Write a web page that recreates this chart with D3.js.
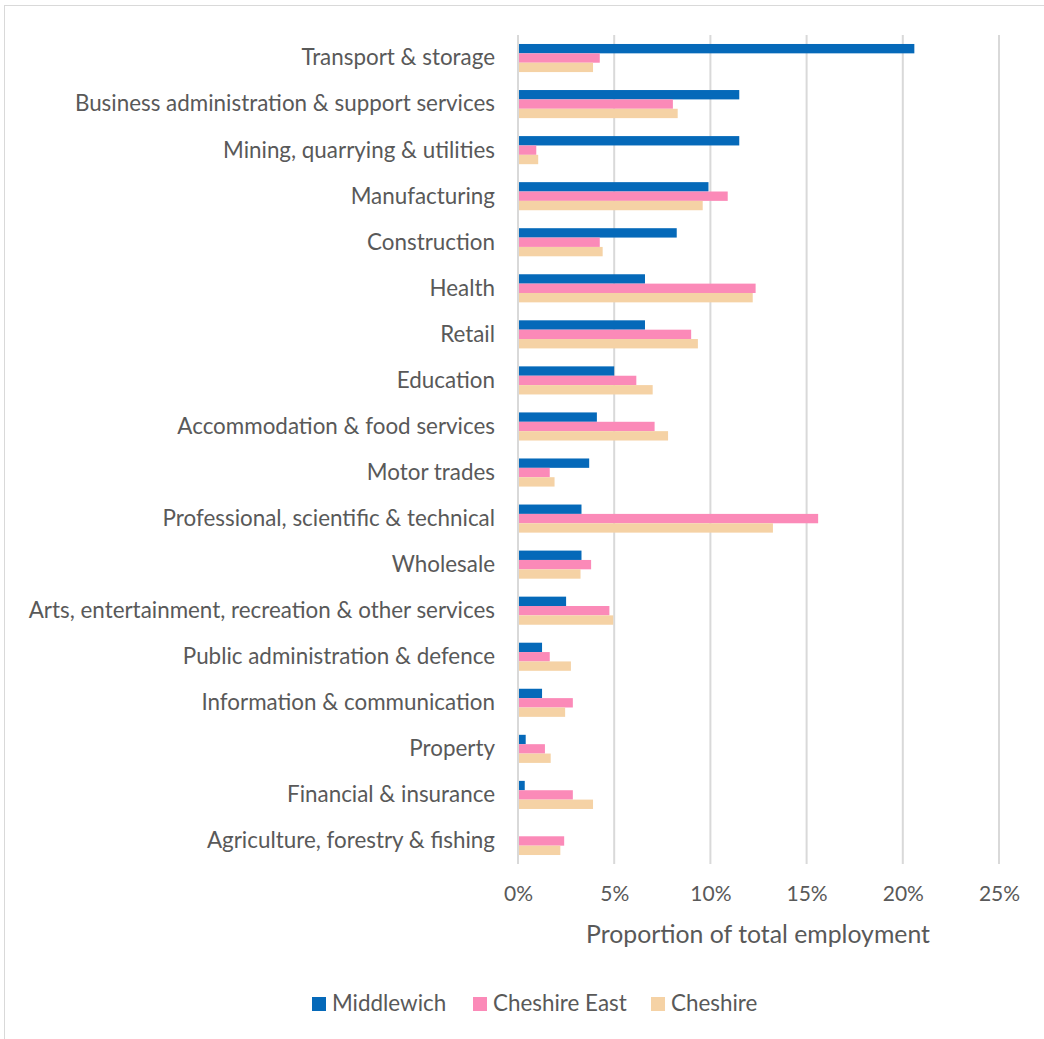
<!DOCTYPE html>
<html>
<head>
<meta charset="utf-8">
<script src="https://cdn.jsdelivr.net/npm/d3@7"></script>
<style>
  html, body { margin: 0; padding: 0; background: #fff; }
  svg { display: block; }
  text { font-family: Lato, "Open Sans", sans-serif; fill: #595959; }
</style>
</head>
<body>
<svg id="chart" width="1044" height="1039"></svg>
<script>
// Employment sectors, top to bottom
const categories = [
  "Transport & storage",
  "Business administration & support services",
  "Mining, quarrying & utilities",
  "Manufacturing",
  "Construction",
  "Health",
  "Retail",
  "Education",
  "Accommodation & food services",
  "Motor trades",
  "Professional, scientific & technical",
  "Wholesale",
  "Arts, entertainment, recreation & other services",
  "Public administration & defence",
  "Information & communication",
  "Property",
  "Financial & insurance",
  "Agriculture, forestry & fishing"
];

// Share of total employment (%)
const middlewich   = [20.6, 11.5, 11.5, 9.9, 8.25, 6.6, 6.6, 5.0, 4.1, 3.7, 3.3, 3.3, 2.5, 1.25, 1.25, 0.4, 0.35, 0.0];
const cheshireEast = [4.25, 8.05, 0.95, 10.9, 4.25, 12.35, 9.0, 6.15, 7.1, 1.65, 15.6, 3.8, 4.75, 1.65, 2.85, 1.4, 2.85, 2.4];
const cheshire     = [3.9, 8.3, 1.05, 9.6, 4.4, 12.2, 9.35, 7.0, 7.8, 1.9, 13.25, 3.25, 4.95, 2.75, 2.45, 1.7, 3.9, 2.2];

const seriesNames = ["Middlewich", "Cheshire East", "Cheshire"];
const seriesColors = ["#0569b9", "#fb8ab8", "#f5d2a5"];
const xTicks = [0, 5, 10, 15, 20, 25];

const series = [middlewich, cheshireEast, cheshire];

const svg = d3.select("#chart");

// Chart area frame
svg.append("rect")
  .attr("x", 4.5).attr("y", 5.5)
  .attr("width", 1060).attr("height", 1060)
  .attr("fill", "none")
  .attr("stroke", "#d9d9d9")
  .attr("stroke-width", 1);

const plot = { left: 518, right: 999, top: 35, bottom: 864 };

const x = d3.scaleLinear().domain([0, 25]).range([plot.left, plot.right]);
const y = d3.scaleBand().domain(categories).range([plot.top, plot.bottom]).paddingInner(0).paddingOuter(0);

const groupH = y.bandwidth() * 0.61;
const inner = d3.scaleBand().domain(seriesNames).range([0, groupH]);

// Vertical gridlines
svg.append("g")
  .selectAll("line")
  .data(xTicks)
  .join("line")
  .attr("x1", d => x(d)).attr("x2", d => x(d))
  .attr("y1", plot.top).attr("y2", plot.bottom)
  .attr("stroke", "#d9d9d9")
  .attr("stroke-width", 2);

// Bars
const groups = svg.append("g")
  .selectAll("g")
  .data(categories)
  .join("g")
  .attr("transform", d => `translate(0,${y(d) + (y.bandwidth() - groupH) / 2})`);

groups.selectAll("rect")
  .data((c, i) => series.map((s, k) => ({ name: seriesNames[k], value: s[i], color: seriesColors[k] })))
  .join("rect")
  .attr("x", x(0) + 1)
  .attr("y", d => inner(d.name))
  .attr("width", d => Math.max(0, x(d.value) - x(0) - 1))
  .attr("height", inner.bandwidth())
  .attr("fill", d => d.color);

// Category labels
svg.append("g")
  .selectAll("text")
  .data(categories)
  .join("text")
  .attr("x", plot.left - 23)
  .attr("y", d => y(d) + y.bandwidth() / 2)
  .attr("dy", "0.33em")
  .attr("text-anchor", "end")
  .attr("font-size", 22.4)
  .text(d => d);

// X axis tick labels
const xAxis = d3.axisBottom(x).tickValues(xTicks).tickFormat(d => d + "%").tickSize(0).tickPadding(0);
const xg = svg.append("g").attr("transform", `translate(0,${plot.bottom + 30})`).call(xAxis);
xg.select(".domain").remove();
xg.selectAll("text")
  .attr("font-size", 21)
  .attr("font-family", "Lato, 'Open Sans', sans-serif")
  .attr("fill", "#595959")
  .attr("dy", "0.33em")
  .attr("y", 0);

// Axis title
svg.append("text")
  .attr("x", 758)
  .attr("y", 935)
  .attr("dy", "0.33em")
  .attr("text-anchor", "middle")
  .attr("font-size", 24.8)
  .text("Proportion of total employment");

// Legend
const legendItems = [
  { name: "Middlewich", color: seriesColors[0], x: 312 },
  { name: "Cheshire East", color: seriesColors[1], x: 473 },
  { name: "Cheshire", color: seriesColors[2], x: 651 }
];
const lg = svg.append("g").selectAll("g").data(legendItems).join("g")
  .attr("transform", d => `translate(${d.x},1004)`);
lg.append("rect").attr("x", 0).attr("y", -7).attr("width", 14).attr("height", 14).attr("fill", d => d.color);
lg.append("text").attr("x", 20).attr("y", 0).attr("dy", "0.33em").attr("font-size", 22.4).text(d => d.name);
</script>
</body>
</html>
